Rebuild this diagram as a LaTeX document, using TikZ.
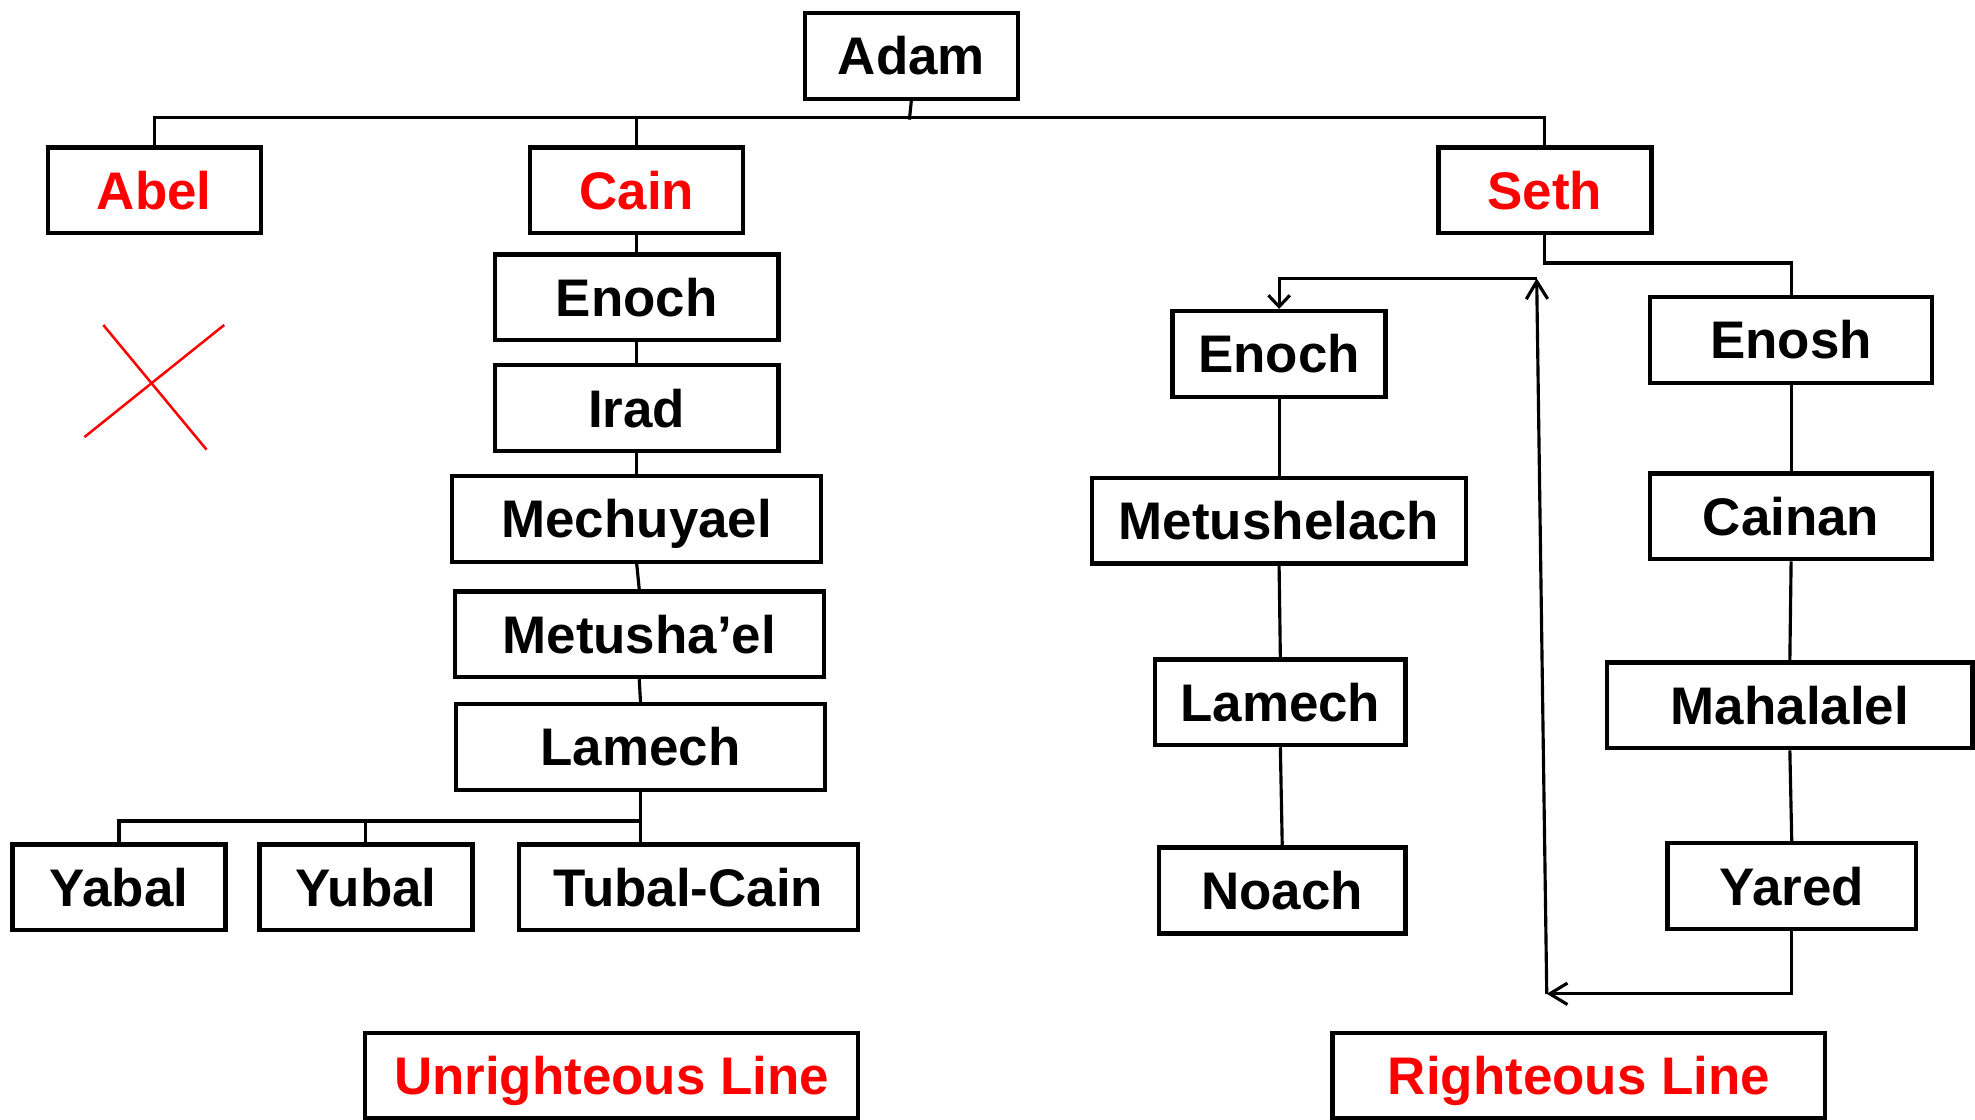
\documentclass[tikz,border=0pt]{standalone}
\usepackage{fontspec}
\setmainfont{Liberation Sans}
\usetikzlibrary{arrows.meta}

\begin{document}
\begin{tikzpicture}[x=1pt,y=-1pt]
 \tikzset{person/.style = {shape=rectangle,draw,line width=3.5pt,minimum height=68pt,inner sep=0pt,text height=30pt,text depth=0pt,font=\fontsize{42}{50}\selectfont\bfseries}}
 \tikzset{line/.style = {line width=2.5pt}}
 \tikzset{edge/.style = {line width=2.5pt,-{Straight Barb[length=14pt,width=17pt]}}}
 \useasboundingbox (0,0) rectangle (1568,889);

 % vertices
 \node[person,minimum width=169pt] (adam) at (723.5,44.5) {Adam};
 \node[person,minimum width=169pt,text=red] (abel) at (122.5,151) {Abel};
 \node[person,minimum width=169pt,text=red] (cain) at (505.5,151) {Cain};
 \node[person,minimum width=169pt,text=red] (seth) at (1226.5,151) {Seth};

 \node[person,minimum width=225pt] (enochC) at (505.5,236) {Enoch};
 \node[person,minimum width=225pt] (irad) at (505.5,324) {Irad};
 \node[person,minimum width=293pt] (mechuyael) at (505.5,412) {Mechuyael};
 \node[person,minimum width=293pt] (metushael) at (507.5,503.5) {Metusha’el};
 \node[person,minimum width=293pt] (lamechC) at (508.5,593) {Lamech};
 \node[person,minimum width=169pt] (yabal) at (94.5,704.5) {Yabal};
 \node[person,minimum width=169pt] (yubal) at (290.5,704.5) {Yubal};
 \node[person,minimum width=269pt] (tubalcain) at (546.5,704.5) {Tubal-Cain};

 \node[person,minimum width=169pt] (enochS) at (1015.5,281) {Enoch};
 \node[person,minimum width=297pt] (metushelach) at (1015.5,413.5) {Metushelach};
 \node[person,minimum width=199pt] (lamechS) at (1016.5,557.5) {Lamech};
 \node[person,minimum width=196pt] (noach) at (1018,707) {Noach};

 \node[person,minimum width=224pt] (enosh) at (1422,270) {Enosh};
 \node[person,minimum width=224pt] (cainan) at (1422,410) {Cainan};
 \node[person,minimum width=290pt] (mahalalel) at (1421,560) {Mahalalel};
 \node[person,minimum width=197pt] (yared) at (1422.5,703.5) {Yared};

 \node[person,minimum width=391pt,text=red] (unrighteous) at (485.5,854) {Unrighteous Line};
 \node[person,minimum width=391pt,text=red] (righteous) at (1253.5,854) {Righteous Line};

 \coordinate (bus) at (722,95);
 \coordinate (back) at (1228,789);
 \coordinate (top) at (1220,221);

 %edges
 \draw[line] (adam.south) -- (bus);
 \draw[line] (abel.north) -- ++(0,-22) -| (seth.north);
 \draw[line] (cain.north) -- ++(0,-22);
 \draw[line] (cain.south) -- (enochC.north);
 \draw[line] (enochC.south) -- (irad.north);
 \draw[line] (irad.south) -- (mechuyael.north);
 \draw[line] (mechuyael.south) -- (metushael.north);
 \draw[line] (metushael.south) -- (lamechC.north);
 \draw[line] (lamechC.south) -- (lamechC.south |- tubalcain.north);
 \draw[line] (yabal.north) -- ++(0,-17) -| (lamechC.south);
 \draw[line] (yubal.north) -- ++(0,-17);

 \draw[line] (seth.south) -- ++(0,22) -| (enosh.north);
 \draw[line] (enosh.south) -- (cainan.north);
 \draw[line] (cainan.south) -- (mahalalel.north);
 \draw[line] (mahalalel.south) -- (yared.north);
 \draw[edge] (yared.south) |- (back);
 \draw[edge] (back) -- (top);
 \draw[edge,-{Straight Barb[length=9pt,width=17pt]}] (top) -| (enochS.north);

 \draw[line] (enochS.south) -- (metushelach.north);
 \draw[line] (metushelach.south) -- (lamechS.north);
 \draw[line] (lamechS.south) -- (noach.north);

 % cross
 \draw[red,line width=2pt] (67,347) -- (178,258);
 \draw[red,line width=2pt] (82,258) -- (164,357);
\end{tikzpicture}
\end{document}
